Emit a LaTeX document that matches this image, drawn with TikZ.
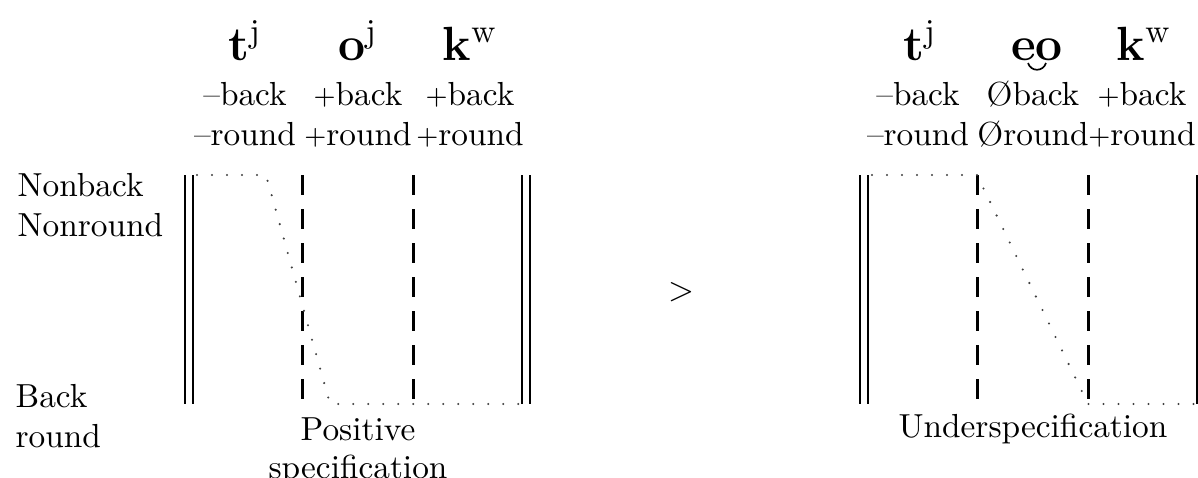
\documentclass[tikz,border=0pt]{standalone}
\newcommand{\plussign}{\raisebox{0.2pt}{\footnotesize+}}
\tikzset{
  bar/.style={line width=0.6pt,line cap=butt,double,double distance=1.8pt},
  divline/.style={line width=0.9pt,line cap=butt,dash pattern=on 6pt off 4.2pt},
  dotline/.style={line width=0.7pt,line cap=round,dash pattern=on 0pt off 4.5pt,black!75},
  head/.style={anchor=base,inner sep=0pt,font=\Large\bfseries},
  feat/.style={anchor=base,inner sep=0pt},
  lbl/.style={anchor=base west,inner sep=0pt}
}
\begin{document}
\begin{tikzpicture}[x=0.3pt,y=-0.3pt]
\def\ytop{175}
\def\ybot{404}
\useasboundingbox (0,0) rectangle (1198,477);
\clip (0,0) rectangle (1198,477);

% row labels
\node[lbl] (nonback) at (17,196) {Nonback};
\node[lbl] (nonround) at (17,236) {Nonround};
\node[lbl] (back) at (15,407) {Back};
\node[lbl] (round) at (15,447) {round};

% positive specification
\foreach \x in {189,526} \draw[bar] (\x,\ytop) -- (\x,\ybot);
\foreach \x in {302,413} \draw[divline] (\x,\ytop) -- (\x,\ybot);

\node[head] (tj) at (245,60) {t\textsuperscript{\normalfont j}};
\node[head] (oj) at (358,60) {o\textsuperscript{\normalfont j}};
\node[head] (kw) at (470,60) {k\textsuperscript{\normalfont w}};
\foreach \x/\s [count=\i] in {245/--,358/\plussign,470/\plussign} {
  \node[feat] (bk\i) at (\x,105) {\s back};
  \node[feat] (rd\i) at (\x,145) {\s round};
}

\coordinate (p0) at (197,\ytop);
\coordinate (p1) at (266,\ytop);
\coordinate (p2) at (330,\ybot);
\coordinate (p3) at (519,\ybot);
\draw[dotline] (p0) -- (p1) -- (p2) -- (p3);

\node[feat] (pos) at (358,440) {Positive};
\node[feat] (spec) at (358,478) {specification};

\node (gt) at (681,292) {$>$};

% underspecification
\begin{scope}[shift={(675,0)}]
\foreach \x in {189,526} \draw[bar] (\x,\ytop) -- (\x,\ybot);
\foreach \x in {302,413} \draw[divline] (\x,\ytop) -- (\x,\ybot);

\node[head] (tj2) at (245,60) {t\textsuperscript{\normalfont j}};
\node[head] (eo) at (362,60) {eo};
\draw[line width=0.5pt] ([shift={(-9,3)}]eo.base) .. controls +(3,9) and +(-3,9) .. ([shift={(9,3)}]eo.base);
\node[head] (kw2) at (469,60) {k\textsuperscript{\normalfont w}};
\foreach \x/\s [count=\i] in {243/--,358/Ø,467/\plussign} {
  \node[feat] (ubk\i) at (\x,105) {\s back};
  \node[feat] (urd\i) at (\x,145) {\s round};
}

\coordinate (q0) at (197,\ytop);
\coordinate (q1) at (302,\ytop);
\coordinate (q2) at (413,\ybot);
\coordinate (q3) at (519,\ybot);
\draw[dotline] (q0) -- (q1) -- (q2) -- (q3);

\node[feat] (under) at (358,437) {Underspecification};
\end{scope}
\end{tikzpicture}
\end{document}
